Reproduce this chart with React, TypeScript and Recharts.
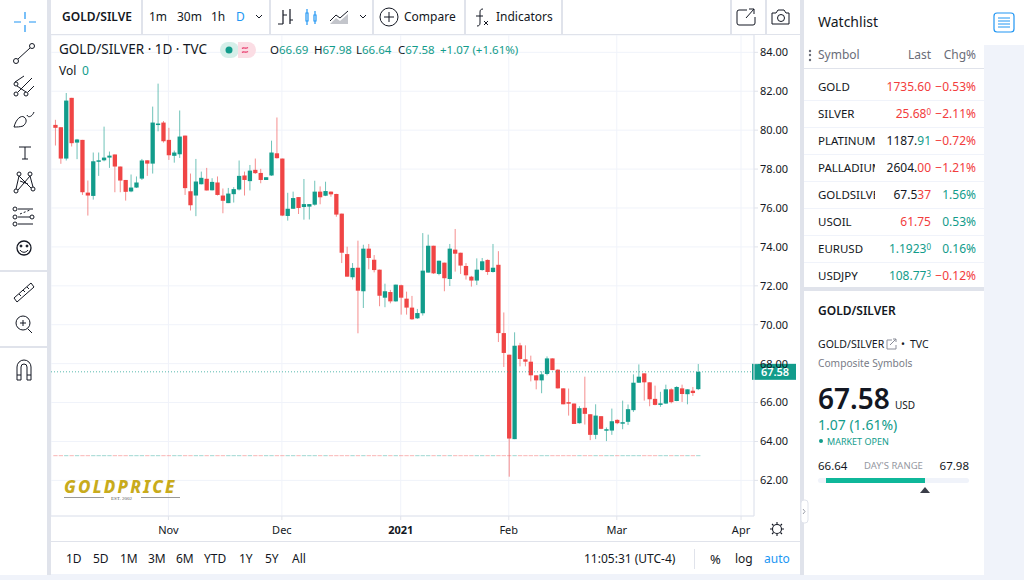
import React from 'react';
import {
  ComposedChart,
  Bar,
  XAxis,
  YAxis,
  CartesianGrid,
  ReferenceLine,
} from 'recharts';

const opens = [
  80.27, 80.15, 78.54, 81.66, 79.36, 79.5, 76.79, 76.62, 78.4, 78.45,
  78.59, 78.75, 78.13, 77.44, 76.85, 77.05, 77.51, 78.45, 78.28, 80.3,
  80.39, 79.5, 78.68, 78.76, 79.72, 76.86, 76.64, 77.22, 77.5, 76.91,
  77.31, 76.64, 76.25, 76.71, 76.95, 77.67, 77.38, 77.96, 77.8, 77.44,
  77.67, 78.81, 78.54, 75.59, 75.96, 76.56, 76.05, 76.07, 76.17, 76.84,
  76.63, 76.84, 76.72, 75.71, 73.63, 72.44, 72.93, 71.72, 73.91, 73.34,
  72.83, 71.39, 71.68, 71.2, 72.03, 71.34, 70.88, 70.33, 70.59, 72.68,
  74.06, 72.61, 73.19, 72.35, 73.86, 73.7, 73.02, 72.47, 72.27, 72.81,
  73.33, 72.71, 73.08, 69.57, 68.46, 64.12, 68.94, 68.22, 68.1, 67.4,
  67.14, 67.47, 68.27, 67.69, 66.73, 66.02, 65.95, 64.94, 65.73, 65.4,
  64.34, 65.3, 64.6, 64.56, 65.11, 64.96, 65.01, 65.61, 67.02, 67.5,
  67.04, 66.19, 65.88, 65.95, 66.68, 66.08, 66.73, 66.43, 66.61, 66.69,
];
const highs = [
  80.53, 80.15, 81.91, 81.66, 79.55, 79.5, 77.41, 78.85, 78.85, 80.18,
  78.9, 78.75, 78.13, 77.44, 77.72, 77.62, 78.52, 78.45, 81.21, 82.39,
  80.47, 80.12, 78.95, 81.01, 79.72, 77.77, 78.52, 77.87, 78.06, 77.53,
  77.62, 77.0, 77.03, 77.07, 78.44, 77.87, 78.21, 78.54, 78.01, 77.58,
  79.46, 80.65, 78.54, 76.78, 76.84, 76.56, 77.49, 76.2, 77.4, 77.11,
  77.35, 76.85, 76.73, 75.71, 74.01, 73.17, 74.32, 74.11, 74.15, 73.58,
  72.83, 72.11, 71.79, 72.06, 72.06, 71.7, 71.48, 70.81, 74.71, 74.63,
  74.06, 73.29, 73.19, 74.15, 74.92, 73.7, 73.17, 72.51, 73.41, 73.43,
  73.36, 74.15, 73.78, 70.63, 68.46, 69.61, 69.07, 68.94, 68.41, 67.4,
  67.61, 68.37, 68.27, 67.71, 66.73, 66.72, 65.95, 65.81, 67.33, 65.4,
  65.91, 65.3, 64.72, 65.69, 65.14, 66.1, 65.9, 67.45, 67.96, 67.5,
  67.04, 66.87, 66.55, 66.92, 66.73, 66.84, 66.92, 66.68, 66.8, 67.98,
];
const lows = [
  79.21, 78.27, 78.44, 79.16, 78.51, 76.67, 75.61, 76.43, 77.65, 78.4,
  78.06, 76.81, 76.81, 76.38, 76.81, 77.03, 77.44, 77.65, 77.77, 79.94,
  79.36, 78.47, 78.33, 78.57, 76.67, 75.87, 75.58, 77.21, 76.9, 76.9,
  76.64, 75.73, 76.25, 76.28, 76.9, 76.64, 76.9, 77.75, 77.27, 77.44,
  77.65, 78.54, 75.58, 75.35, 75.95, 75.69, 75.4, 75.41, 76.12, 76.19,
  76.61, 76.58, 75.55, 73.17, 72.47, 72.32, 69.56, 70.86, 72.85, 72.69,
  70.95, 70.9, 71.1, 71.19, 70.52, 70.52, 70.25, 70.3, 70.47, 72.68,
  72.61, 72.54, 71.72, 71.99, 72.73, 72.61, 72.32, 71.96, 72.04, 72.78,
  72.56, 72.68, 69.11, 67.83, 62.19, 64.12, 67.86, 67.86, 67.09, 66.68,
  66.48, 67.4, 67.66, 66.72, 65.91, 65.33, 64.9, 64.92, 64.87, 64.07,
  64.12, 64.63, 64.02, 64.34, 64.89, 64.63, 64.85, 65.52, 67.01, 66.1,
  65.81, 65.86, 65.78, 65.93, 65.96, 66.07, 66.03, 65.91, 66.34, 66.64,
];
const closes = [
  80.12, 78.54, 81.52, 79.33, 79.52, 76.81, 76.64, 78.4, 78.45, 78.59,
  78.69, 78.13, 77.41, 76.83, 77.05, 77.31, 78.44, 78.28, 80.39, 80.34,
  79.43, 78.71, 78.85, 79.67, 77.02, 76.14, 77.36, 77.55, 76.9, 77.34,
  76.67, 76.37, 76.74, 76.97, 77.65, 77.44, 77.92, 77.79, 77.44, 77.58,
  78.85, 78.56, 75.61, 75.96, 76.51, 76.0, 76.2, 76.2, 76.84, 76.55,
  76.87, 76.7, 75.66, 73.7, 72.47, 72.92, 71.75, 73.91, 73.43, 72.81,
  71.49, 71.72, 71.2, 72.06, 71.39, 70.88, 70.28, 70.6, 72.78, 74.06,
  72.64, 73.29, 72.39, 73.91, 73.65, 73.04, 72.54, 72.27, 72.83, 73.26,
  72.71, 72.93, 69.57, 68.55, 64.15, 68.92, 68.24, 68.1, 67.4, 67.14,
  67.45, 68.27, 67.67, 66.73, 65.91, 65.95, 64.9, 65.71, 65.42, 64.34,
  65.33, 64.65, 64.63, 65.04, 64.94, 64.99, 65.66, 67.02, 67.33, 67.04,
  66.17, 65.88, 65.96, 66.68, 66.02, 66.8, 66.44, 66.68, 66.49, 67.58,
];

const monthTicks = [21, 42, 64, 84, 104, 127];
const monthLabels = ['Nov', 'Dec', '2021', 'Feb', 'Mar', 'Apr'];
const priceTicks = [62, 64, 66, 68, 70, 72, 74, 76, 78, 80, 82, 84];
const lastPrice = 67.58;
const volumeLevel = 63.27;

const watchSymbols = ['GOLD', 'SILVER', 'PLATINUM', 'PALLADIUM', 'GOLDSILVER', 'USOIL', 'EURUSD', 'USDJPY'];
const watchLastPlain = ['', '', '1187.', '2604.', '67.5', '', '', ''];
const watchLastColored = ['1735.60', '25.68', '91', '00', '37', '61.75', '1.1923', '108.77'];
const watchLastSup = ['', '0', '', '', '', '', '0', '3'];
const watchLastColors = ['r', 'r', 'g', 'r', 'r', 'r', 'g', 'g'];
const watchChanges = ['−0.53%', '−2.11%', '−0.72%', '−1.21%', '1.56%', '0.53%', '0.16%', '−0.12%'];

const rangeButtons = ['1D', '5D', '1M', '3M', '6M', 'YTD', '1Y', '5Y', 'All'];
const rangeButtonX = [66, 93, 120, 148, 176, 204, 239, 265, 292];

const RED = '#f04545';
const GREEN = '#129c8b';
const TEXT = '#131722';
const LINE = '#e0e3eb';
const FONT = '"Noto Sans", sans-serif';

const chartData = opens.map((open, i) => ({
  index: i,
  open,
  close: closes[i],
  high: highs[i],
  low: lows[i],
  range: [lows[i], highs[i]],
}));

function Candle(props: any) {
  const { x, y, width, height, payload } = props;
  const mid = x + width / 2;
  const perUnit = height / (payload.high - payload.low);
  const yOf = (v: number) => y + (payload.high - v) * perUnit;
  const color = payload.close < payload.open ? RED : GREEN;
  const top = yOf(Math.max(payload.open, payload.close));
  const bottom = yOf(Math.min(payload.open, payload.close));
  return (
    <g>
      <line x1={mid} x2={mid} y1={y} y2={y + height} stroke={color} strokeWidth={1} opacity={0.6} />
      <rect x={x} y={top} width={width} height={Math.max(bottom - top, 1.5)} fill={color} />
      <rect x={x} y={yOf(volumeLevel) - 0.5} width={width} height={1} fill={color} opacity={0.4} />
    </g>
  );
}

function MonthTick({ x, y, payload }: any) {
  const pos = monthTicks.indexOf(payload.value);
  const label = monthLabels[pos];
  return (
    <text
      x={x}
      y={y + 12}
      textAnchor="middle"
      fontFamily={FONT}
      fontSize={11}
      fontWeight={label === '2021' ? 700 : 400}
      fill={TEXT}
    >
      {label}
    </text>
  );
}

function PriceTag({ viewBox }: any) {
  const right = viewBox.x + viewBox.width;
  const mid = viewBox.y;
  return (
    <g>
      <rect x={right - 2} y={mid - 8} width={44} height={16} fill={GREEN} />
      <text x={right + 21} y={mid + 4} textAnchor="middle" fontFamily={FONT} fontSize={11} fontWeight={600} fill="#fff">
        {lastPrice.toFixed(2)}
      </text>
    </g>
  );
}

function T({ x, y, size = 12, color = TEXT, weight = 400, right, width, children }: any) {
  const style: React.CSSProperties = {
    position: 'absolute',
    top: y,
    transform: 'translateY(-50%)',
    fontSize: size,
    color,
    fontWeight: weight,
    whiteSpace: 'nowrap',
    lineHeight: 1,
  };
  if (right !== undefined) style.right = 1024 - right;
  else style.left = x;
  if (width) {
    style.width = width;
    style.overflow = 'hidden';
    style.lineHeight = '1.3';
  }
  return <div style={style}>{children}</div>;
}

function Box({ x, y, w, h, bg, extra }: any) {
  return <div style={{ position: 'absolute', left: x, top: y, width: w, height: h, background: bg, ...extra }} />;
}

function Icons() {
  const s = { fill: 'none', stroke: TEXT, strokeWidth: 1 };
  return (
    <svg width={1024} height={580} style={{ position: 'absolute', left: 0, top: 0 }}>
      {/* drawing tools */}
      <g stroke="#2196f3" strokeWidth={1.2}>
        <path d="M14 22h7M29 22h7M25 12v7M25 25v7" />
      </g>
      <g {...s}>
        <circle cx={16} cy={61} r={2.5} /><circle cx={32} cy={46} r={2.5} /><path d="M18 59l12-11" />
        <circle cx={16} cy={94} r={2} /><circle cx={26} cy={94} r={2} /><circle cx={16} cy={84} r={2} />
        <path d="M15 82l9-6M18 92l14-14M28 92l6-6M17 86l9 6" />
        <path d="M14 127c2-8 7-12 10-10 3 2 3 6-1 9-3 1-6 1-9 1zM27 115c1 3 5 2 7-3" />
        <path d="M19 147h12M25 147v12M22 159h6" />
        <circle cx={19} cy={174} r={2} /><circle cx={30} cy={174} r={2} />
        <circle cx={33} cy={189} r={2} /><circle cx={16} cy={191} r={2} />
        <path d="M19 176l-3 13M19 176l12 12M30 176l-12 14M30 176l3 11M20 181l8 3" />
        <circle cx={15} cy={209} r={2} /><circle cx={15} cy={217} r={2} /><circle cx={15} cy={224} r={2} /><circle cx={32} cy={217} r={2} />
        <path d="M18 209h15M18 217h12M18 224h15" />
        <path d="M20 214l10-4" strokeDasharray="2 2" />
        <circle cx={24} cy={248} r={7} stroke="#131722" strokeWidth={1.3} />
        <circle cx={21} cy={246} r={1} fill={TEXT} /><circle cx={27} cy={246} r={1} fill={TEXT} />
        <path d="M20 250c2 3 6 3 8 0" />
        <path d="M14 298l17-15 3 4-17 15zM19 294l2 2M23 290l2 2M27 287l2 2" />
        <circle cx={23} cy={323} r={7} /><path d="M20 323h6M23 320v6M28 329l4 4" />
        <path d="M17 380v-13a7 7 0 0 1 14 0v13h-4v-13a3 3 0 0 0-6 0v13zM17 375h4M27 375h4" />
      </g>
      {/* top bar icons */}
      <g {...s}>
        <path d="M256 15l3 3 3-3" />
        <path d="M283 10v14M278 24h5M283 15h3M290 9v15M290 20h3M286 15h1" strokeWidth={1.2} />
        <path d="M360 15l3 3 3-3" />
        <circle cx={389} cy={17} r={9} /><path d="M384 17h10M389 12v10" />
        <path d="M483 9c-2 0-3 1-3 3v11c0 2-1 3-3 3M476 16h7M484 21l4 4M488 21l-4 4" />
        <path d="M747 10h-8a2 2 0 0 0-2 2v11a2 2 0 0 0 2 2h14a2 2 0 0 0 2-2v-6M746 18l8-9M749 9h5v5" />
        <path d="M772 13h4l2-3h6l2 3h3v11h-17z" />
        <circle cx={781} cy={18} r={3.5} />
      </g>
      <g stroke="#2196f3" fill="none">
        <path d="M306 13h2v8h-2zM314 15h2v6h-2zM307 9v4M307 21v4M315 11v4M315 21v3" strokeWidth={1.2} />
      </g>
      <path d="M330 24l6-6 4 3 8-7v10z" fill="#c3c5cb" />
      <path d="M330 21l6-6 4 3 8-7" fill="none" stroke={TEXT} />
      {/* settings sun */}
      <g fill="none" stroke={TEXT} strokeWidth={1.1}>
        <circle cx={777} cy={529} r={4.5} />
        <path d="M777 522v2M777 534v2M770 529h2M782 529h2M772 524l1.5 1.5M780.5 532.5l1.5 1.5M772 534l1.5-1.5M780.5 525.5l1.5-1.5" />
      </g>
      {/* watchlist dots */}
      <g fill="#6a6d78">
        <circle cx={810} cy={51} r={1.2} /><circle cx={810} cy={55} r={1.2} /><circle cx={810} cy={60} r={1.2} />
      </g>
      {/* external link near symbol */}
      <path d="M892 340h-5v9h9v-4M890 345l6-6M893 339h3v3" fill="none" stroke="#8a8d98" />
      {/* day range */}
      <path d="M920 493l5-6 5 6z" fill="#3a3d48" />
      {/* list button */}
      <rect x={994} y={13} width={20} height={19} rx={3} fill="none" stroke="#2196f3" strokeWidth={1.2} />
      <path d="M998 18h12M998 21h12M998 24h12M998 27h12" stroke="#2196f3" />
      <circle cx={821} cy={441} r={2} fill={GREEN} />
      {/* collapse handle */}
      <rect x={801} y={500} width={7} height={23} rx={3} fill="#fff" stroke={LINE} />
      <path d="M803 509l2 2.500-2 2.500" stroke="#9a9da8" fill="none" />
      {/* legend pill */}
      <rect x={220} y={42} width={19} height={16} rx={8} fill="#d5efe9" />
      <path d="M238 42h10a8 8 0 0 1 0 16h-10z" fill="#fbdde4" />
      <circle cx={229} cy={50} r={3.5} fill={GREEN} />
      <path d="M242 48.500c2-2 3 1 6-1M242 52.500c2-2 3 1 6-1" stroke="#e8386b" strokeWidth={1.2} fill="none" />
    </svg>
  );
}

export default function App() {
  return (
    <div
      style={{
        position: 'fixed',
        left: 0,
        top: 0,
        width: 1024,
        height: 580,
        overflow: 'hidden',
        background: '#f0f3fa',
        fontFamily: FONT,
      }}
    >
      {/* panels */}
      <Box x={0} y={0} w={47} h={575} bg="#fff" />
      <Box x={47} y={0} w={4} h={575} bg={LINE} />
      <Box x={51} y={0} w={749} h={574} bg="#fff" />
      <Box x={800} y={0} w={4} h={575} bg={LINE} />
      <Box x={804} y={0} w={180} h={575} bg="#fff" />
      <Box x={984} y={0} w={40} h={45} bg="#fff" />
      <Box x={0} y={270} w={47} h={2} bg={LINE} />
      <Box x={0} y={346} w={47} h={2} bg={LINE} />
      <Box x={51} y={34} w={749} h={1} bg={LINE} />
      <Box x={51} y={541} w={749} h={1} bg={LINE} />
      <Box x={694} y={549} w={1} h={20} bg={LINE} />
      {[141, 269, 372, 464, 561, 730, 765].map(x => (
        <Box key={x} x={x} y={0} w={2} h={34} bg={LINE} />
      ))}
      <Box x={804} y={68} w={180} h={1} bg={LINE} />
      {[100, 127, 154, 181, 208, 235, 262].map(y => (
        <Box key={y} x={804} y={y} w={180} h={1} bg="#f0f3fa" />
      ))}
      <Box x={804} y={287} w={180} h={4} bg={LINE} />

      <div style={{ position: 'absolute', left: 51, top: 35 }}>
        <ComposedChart
          width={749}
          height={506}
          data={chartData}
          margin={{ top: 0, right: 0, bottom: 0, left: 0 }}
        >
          <CartesianGrid stroke="#f0f3fa" />
          <XAxis
            dataKey="index"
            type="number"
            domain={[-0.74, 129.4]}
            ticks={monthTicks}
            tick={<MonthTick />}
            tickLine={{ stroke: LINE }}
            tickSize={4}
            axisLine={{ stroke: LINE }}
            height={25}
            interval={0}
            allowDataOverflow
          />
          <YAxis
            orientation="right"
            type="number"
            domain={[60.17, 84.89]}
            ticks={priceTicks}
            tickFormatter={(v: number) => v.toFixed(2)}
            tick={{ fontFamily: FONT, fontSize: 11, fill: TEXT }}
            tickLine={{ stroke: LINE }}
            tickSize={4}
            axisLine={{ stroke: LINE }}
            width={46}
            interval={0}
            allowDataOverflow
          />
          <ReferenceLine
            y={lastPrice}
            stroke={GREEN}
            strokeOpacity={0.7}
            strokeDasharray="1 2"
            label={<PriceTag />}
          />
          <Bar dataKey="range" barSize={4.3} shape={<Candle />} isAnimationActive={false} />
        </ComposedChart>
      </div>

      <Icons />

      {/* top bar */}
      <T x={62} y={17} size={12} weight={600}>GOLD/SILVE</T>
      <T x={149} y={17} size={12}>1m</T>
      <T x={177} y={17} size={12}>30m</T>
      <T x={211} y={17} size={12}>1h</T>
      <T x={236} y={17} size={12} color="#2196f3">D</T>
      <T x={404} y={17} size={12}>Compare</T>
      <T x={496} y={17} size={12}>Indicators</T>

      {/* legend */}
      <T x={59} y={50} size={13.5}>GOLD/SILVER · 1D · TVC</T>
      <T x={270} y={50} size={11.5}>O<span style={{ color: GREEN }}>66.69</span></T>
      <T x={314} y={50} size={11.5}>H<span style={{ color: GREEN }}>67.98</span></T>
      <T x={356} y={50} size={11.5}>L<span style={{ color: GREEN }}>66.64</span></T>
      <T x={398} y={50} size={11.5}>C<span style={{ color: GREEN }}>67.58</span></T>
      <T x={440} y={50} size={11.5} color={GREEN}>+1.07 (+1.61%)</T>
      <T x={59} y={71} size={12}>Vol</T>
      <T x={82} y={71} size={12} color={GREEN}>0</T>

      {/* logo */}
      <T x={64} y={486} size={17} weight={800} color="#c8ab1c">
        <span style={{ fontStyle: 'italic', letterSpacing: 2.2 }}>GOLDPRICE</span>
      </T>
      <Box x={64} y={497} w={40} h={1} bg="#999" />
      <Box x={141} y={497} w={39} h={1} bg="#999" />
      <T x={111} y={498} size={5} color="#555">
        <span style={{ fontFamily: '"Liberation Serif", serif' }}>EST. 2002</span>
      </T>

      {/* bottom bar */}
      {rangeButtons.map((label, i) => (
        <T key={label} x={rangeButtonX[i]} y={559} size={12}>{label}</T>
      ))}
      <T x={584} y={559} size={12}>11:05:31 (UTC-4)</T>
      <T x={710} y={559} size={13}>%</T>
      <T x={735} y={559} size={12}>log</T>
      <T x={764} y={559} size={12} color="#2196f3">auto</T>

      {/* watchlist */}
      <T x={818} y={22} size={14}>Watchlist</T>
      <T x={818} y={55} size={12} color="#6a6d78">Symbol</T>
      <T right={931} y={55} size={12} color="#6a6d78">Last</T>
      <T right={976} y={55} size={12} color="#6a6d78">Chg%</T>
      {watchSymbols.map((symbol, i) => {
        const rowY = 87 + i * 27;
        const lastColor = watchLastColors[i] === 'r' ? '#f23d3d' : GREEN;
        const chgColor = watchChanges[i].startsWith('−') ? '#f23d3d' : GREEN;
        return (
          <React.Fragment key={symbol}>
            <T x={818} y={rowY} size={11.5} width={57}>{symbol}</T>
            <T right={931} y={rowY} size={12}>
              {watchLastPlain[i]}
              <span style={{ color: lastColor }}>{watchLastColored[i]}</span>
              {watchLastSup[i] && (
                <span style={{ color: lastColor, fontSize: 8, verticalAlign: 3 }}>{watchLastSup[i]}</span>
              )}
            </T>
            <T right={976} y={rowY} size={12} color={chgColor}>{watchChanges[i]}</T>
          </React.Fragment>
        );
      })}

      {/* details */}
      <T x={818} y={311} size={12} weight={600}>GOLD/SILVER</T>
      <T x={818} y={344} size={10.5}>GOLD/SILVER</T>
      <T x={901} y={344} size={10.5}>•</T>
      <T x={910} y={344} size={10.5}>TVC</T>
      <T x={818} y={363} size={10.2} color="#787b86">Composite Symbols</T>
      <T x={818} y={398} size={28} weight={600}>67.58</T>
      <T x={895} y={405} size={10}>USD</T>
      <T x={818} y={425} size={14} color={GREEN}>1.07 (1.61%)</T>
      <T x={827} y={441} size={9} color={GREEN}>MARKET OPEN</T>
      <T x={818} y={466} size={11.5}>66.64</T>
      <T x={864} y={466} size={9.5} color="#9598a1">DAY'S RANGE</T>
      <T right={969} y={466} size={11.5}>67.98</T>
      <Box x={818} y={478} w={151} h={5} bg="#f0f3fa" extra={{ borderRadius: 3 }} />
      <Box x={826} y={478} w={99} h={5} bg="#0fb79a" />
    </div>
  );
}
